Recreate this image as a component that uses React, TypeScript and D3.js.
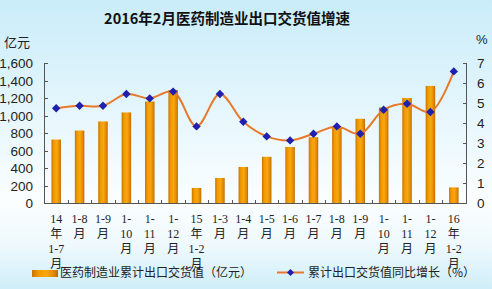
import React from "react";
import * as d3 from "d3";

const categories: string[][] = [
  ["14", "年", "1-7", "月"],
  ["1-8", "月"],
  ["1-9", "月"],
  ["1-", "10", "月"],
  ["1-", "11", "月"],
  ["1-", "12", "月"],
  ["15", "年", "1-2", "月"],
  ["1-3", "月"],
  ["1-4", "月"],
  ["1-5", "月"],
  ["1-6", "月"],
  ["1-7", "月"],
  ["1-8", "月"],
  ["1-9", "月"],
  ["1-", "10", "月"],
  ["1-", "11", "月"],
  ["1-", "12", "月"],
  ["16", "年", "1-2", "月"],
];

const exportValue: number[] = [725, 828, 932, 1035, 1160, 1290, 172, 286, 412, 528, 640, 752, 858, 962, 1092, 1200, 1338, 178];
const growthRate: number[] = [4.74, 4.86, 4.86, 5.45, 5.23, 5.57, 3.83, 5.45, 4.06, 3.33, 3.13, 3.46, 3.83, 3.46, 4.66, 4.96, 4.55, 6.58];

const leftTicks: number[] = [0, 200, 400, 600, 800, 1000, 1200, 1400, 1600];
const rightTicks: number[] = [0, 1, 2, 3, 4, 5, 6, 7];

const title = "2016年2月医药制造业出口交货值增速";
const leftUnit = "亿元";
const rightUnit = "%";
const barLegend = "医药制造业累计出口交货值（亿元）";
const lineLegend = "累计出口交货值同比增长（%）";

const W = 492;
const H = 289;
const plotLeft = 44;
const plotRight = 467;
const plotTop = 63;
const plotBottom = 203;

export default function App() {
  const idx = categories.map((_, i) => String(i));
  const x = d3.scaleBand<string>().domain(idx).range([plotLeft + 0.5, plotRight - 1.5]).paddingInner(0).paddingOuter(0);
  const yL = d3.scaleLinear().domain([0, 1600]).range([plotBottom, plotTop]);
  const yR = d3.scaleLinear().domain([0, 7]).range([plotBottom, plotTop]);
  const barW = 9.5;
  const cx = (i: number) => (x(String(i)) as number) + x.bandwidth() / 2;

  const line = d3
    .line<number>()
    .x((_, i) => cx(i))
    .y((d) => yR(d))
    .curve(d3.curveCatmullRom.alpha(0.5));

  const fmt = d3.format(",");
  const numFont = "'Liberation Sans', Arial, sans-serif";
  const cjkFont = "'Liberation Serif', 'Noto Sans CJK SC', serif";
  const diamond = (px: number, py: number, r: number) =>
    `M${px},${py - r}L${px + r},${py}L${px},${py + r}L${px - r},${py}Z`;

  return (
    <div style={{ position: "fixed", left: 0, top: 0, width: W, height: H }}>
      <svg width={W} height={H} viewBox={`0 0 ${W} ${H}`} style={{ display: "block" }}>
        <defs>
          <linearGradient id="bg" x1="0" y1="0" x2="0" y2="1">
            <stop offset="0" stopColor="#c9ecf9" />
            <stop offset="0.45" stopColor="#eaf8fd" />
            <stop offset="0.7" stopColor="#fbfeff" />
            <stop offset="0.85" stopColor="#eef9fd" />
            <stop offset="1" stopColor="#cfeef9" />
          </linearGradient>
          <linearGradient id="barG" x1="0" y1="0" x2="1" y2="0">
            <stop offset="0" stopColor="#c97400" />
            <stop offset="0.25" stopColor="#f29a00" />
            <stop offset="0.55" stopColor="#f8a80e" />
            <stop offset="0.85" stopColor="#e08600" />
            <stop offset="1" stopColor="#b86800" />
          </linearGradient>
        </defs>
        <rect x={0} y={0} width={W} height={H} fill="url(#bg)" />

        <text x={227} y={24} textAnchor="middle" fontFamily="'Noto Sans CJK SC', sans-serif" fontWeight="bold" fontSize={14.5} fill="#111">
          {title}
        </text>
        <text x={4} y={47} fontFamily="'Noto Sans CJK SC', sans-serif" fontSize={13} fill="#222">
          {leftUnit}
        </text>
        <text x={476} y={44} fontFamily={numFont} fontSize={13} fill="#222">
          {rightUnit}
        </text>

        {/* bars */}
        {exportValue.map((v, i) => (
          <rect key={"b" + i} x={cx(i) - barW / 2} y={yL(v)} width={barW} height={plotBottom - yL(v)} fill="url(#barG)" />
        ))}

        {/* axes */}
        <g stroke="#555" strokeWidth={1} fill="none">
          <line x1={plotLeft + 0.5} y1={plotTop} x2={plotLeft + 0.5} y2={plotBottom} />
          <line x1={plotRight - 0.5} y1={plotTop} x2={plotRight - 0.5} y2={plotBottom} />
          <line x1={plotLeft} y1={plotBottom + 0.5} x2={plotRight} y2={plotBottom + 0.5} />
          {leftTicks.map((t) => (
            <line key={"lt" + t} x1={plotLeft} x2={plotLeft + 4} y1={Math.round(yL(t)) + 0.5} y2={Math.round(yL(t)) + 0.5} />
          ))}
          {rightTicks.map((t) => (
            <line key={"rt" + t} x1={plotRight - 4} x2={plotRight} y1={Math.round(yR(t)) + 0.5} y2={Math.round(yR(t)) + 0.5} />
          ))}
          {categories.map((_, i) => {
            const bx = Math.round(x(String(i)) as number) + 0.5;
            return i === 0 ? null : <line key={"xt" + i} x1={bx} x2={bx} y1={plotBottom - 3} y2={plotBottom} />;
          })}
        </g>

        {leftTicks.map((t) => (
          <text key={"ll" + t} x={33} y={yL(t) + 5} textAnchor="end" fontFamily={numFont} fontSize={13.5} fill="#222">
            {fmt(t)}
          </text>
        ))}
        {rightTicks.map((t) => (
          <text key={"rl" + t} x={477} y={yR(t) + 5} fontFamily={numFont} fontSize={13.5} fill="#222">
            {t}
          </text>
        ))}

        {/* x labels */}
        {categories.map((lines, i) => (
          <text key={"xl" + i} textAnchor="middle" fontFamily={cjkFont} fontSize={12} fill="#222">
            {lines.map((s, j) => (
              <tspan key={j} x={cx(i)} y={223 + j * 15}>
                {s}
              </tspan>
            ))}
          </text>
        ))}

        {/* line */}
        <path d={line(growthRate) || ""} fill="none" stroke="#e8792b" strokeWidth={2} />
        {growthRate.map((v, i) => (
          <path key={"m" + i} d={diamond(cx(i), yR(v), 4.2)} fill="#1f1fb0" />
        ))}

        {/* legend */}
        <rect x={32} y={270} width={26} height={7} fill="url(#barG)" />
        <text x={60} y={277} fontFamily="'Noto Sans CJK SC', sans-serif" fontSize={12} fill="#222">
          {barLegend}
        </text>
        <line x1={277} x2={304} y1={272.5} y2={272.5} stroke="#e8792b" strokeWidth={2} />
        <path d={diamond(290.5, 272.5, 3.5)} fill="#1f1fb0" />
        <text x={308} y={277} fontFamily="'Noto Sans CJK SC', sans-serif" fontSize={12} fill="#222">
          {lineLegend}
        </text>
      </svg>
    </div>
  );
}
